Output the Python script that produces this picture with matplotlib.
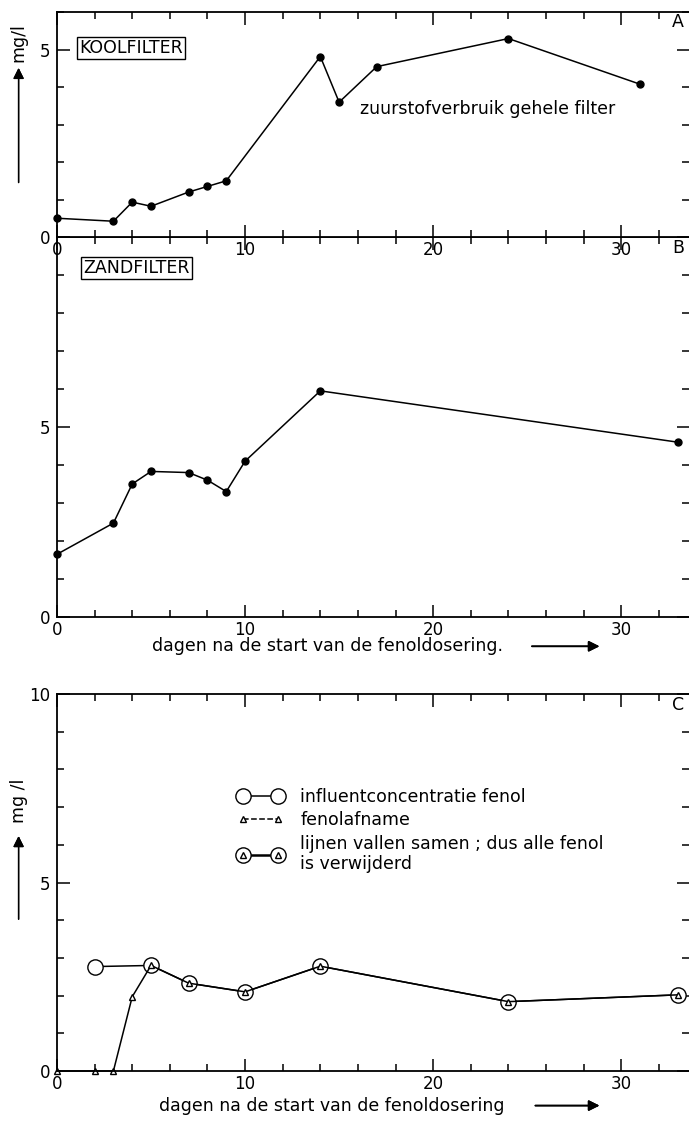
import matplotlib.pyplot as plt
from matplotlib.lines import Line2D
from matplotlib.legend_handler import HandlerTuple
from matplotlib.ticker import MultipleLocator

# Panel A: koolfilter, zuurstofverbruik
days_a = [0, 3, 4, 5, 7, 8, 9, 14, 15, 17, 24, 31]
oxy_a = [0.5, 0.42, 0.93, 0.82, 1.2, 1.35, 1.5, 4.82, 3.6, 4.55, 5.3, 4.08]

# Panel B: zandfilter
days_b = [0, 3, 4, 5, 7, 8, 9, 10, 14, 33]
oxy_b = [1.65, 2.47, 3.5, 3.83, 3.8, 3.6, 3.3, 4.1, 5.95, 4.6]

# Panel C: fenol
days_infl = [2, 5, 7, 10, 14, 24, 33]
infl = [2.77, 2.8, 2.33, 2.1, 2.78, 1.84, 2.02]
days_afn = [0, 2, 3, 4, 5, 7, 10, 14, 24, 33]
afname = [0, 0, 0, 1.97, 2.8, 2.33, 2.1, 2.78, 1.84, 2.02]

xticks = [0, 10, 20, 30]
FS = 12.5   # annotation text
TFS = 12    # tick labels

plt.rcParams['font.family'] = ['DejaVu Sans']

fig = plt.figure(figsize=(6.89, 11.23), dpi=100)
axA = fig.add_axes([0.0827, 0.789, 0.9173, 0.200])
axB = fig.add_axes([0.0827, 0.4506, 0.9173, 0.3384])
axC = fig.add_axes([0.0827, 0.0463, 0.9173, 0.3357])
# A's x tick labels sit inside panel B, so draw A on top
axA.set_zorder(3)


def style(ax, ymax, yticks):
    ax.set_xlim(0, 33.6)
    ax.set_ylim(0, ymax)
    ax.set_xticks(xticks)
    ax.set_yticks(yticks)
    ax.xaxis.set_minor_locator(MultipleLocator(2))
    ax.yaxis.set_minor_locator(MultipleLocator(1))
    ax.tick_params(which='both', direction='in', top=True, right=True,
                   labelsize=TFS, width=1.1)
    ax.tick_params(axis='x', pad=3)
    ax.tick_params(axis='y', pad=5)
    ax.tick_params(which='major', length=9)
    ax.tick_params(which='minor', length=5)
    ax.spines['right'].set_visible(False)
    for s in ['left', 'top', 'bottom']:
        ax.spines[s].set_linewidth(1.3)


style(axA, 6, [0, 5])
style(axB, 10, [0, 5])
style(axC, 10, [0, 5, 10])

# A
axA.plot(days_a, oxy_a, '-', color='k', lw=1.1, marker='o', ms=5, clip_on=False)
axA.text(1.2, 5.05, 'KOOLFILTER', fontsize=FS, va='center',
         bbox=dict(boxstyle='square,pad=0.12', fc='white', ec='k', lw=1))
axA.text(16.1, 3.42, 'zuurstofverbruik gehele filter', fontsize=FS, va='center')
axA.text(0.983, 0.955, 'A', transform=axA.transAxes, fontsize=FS, ha='center', va='center')

# B
axB.plot(days_b, oxy_b, '-', color='k', lw=1.1, marker='o', ms=5, clip_on=False)
axB.text(1.4, 9.18, 'ZANDFILTER', fontsize=FS, va='center',
         bbox=dict(boxstyle='square,pad=0.12', fc='white', ec='k', lw=1))
axB.text(0.983, 0.971, 'B', transform=axB.transAxes, fontsize=FS, ha='center', va='center')

# C
axC.plot(days_infl, infl, '-', color='k', lw=1.1, marker='o', ms=11,
         mfc='white', mew=1, clip_on=False)
axC.plot(days_afn, afname, '-', color='k', lw=1.1, marker='^', ms=5,
         mfc='white', mew=1, clip_on=False)
axC.text(0.983, 0.971, 'C', transform=axC.transAxes, fontsize=FS, ha='center', va='center')

h_infl = Line2D([], [], color='k', lw=1.1, marker='o', ms=11, mfc='white', mew=1)
h_afn = Line2D([], [], color='k', lw=1.1, ls='--', marker='^', ms=5, mfc='white', mew=1)
h_circ = Line2D([], [], color='k', lw=1.8, marker='o', ms=11, mfc='white', mew=1)
h_tri = Line2D([], [], color='k', lw=0, marker='^', ms=5, mfc='white', mew=1)
axC.legend([h_infl, h_afn, (h_circ, h_tri)],
           ['influentconcentratie fenol', 'fenolafname',
            'lijnen vallen samen ; dus alle fenol\nis verwijderd'],
           handler_map={tuple: HandlerTuple(ndivide=1, pad=0)},
           loc='upper left', bbox_to_anchor=(0.286, 0.75), frameon=False,
           fontsize=FS, numpoints=2, handlelength=2.6, handletextpad=1.0,
           labelspacing=0.3, borderaxespad=0, borderpad=0)

# y-axis labels with arrows
fig.text(0.027, 0.962, 'mg/l', rotation=90, fontsize=FS, ha='center', va='center')
fig.add_artist(plt.annotate('', xy=(0.027, 0.942), xytext=(0.027, 0.835),
                            xycoords='figure fraction',
                            arrowprops=dict(arrowstyle='-|>', color='k', lw=1,
                                            mutation_scale=16)))
fig.text(0.027, 0.287, 'mg /l', rotation=90, fontsize=FS, ha='center', va='center')
fig.add_artist(plt.annotate('', xy=(0.027, 0.258), xytext=(0.027, 0.179),
                            xycoords='figure fraction',
                            arrowprops=dict(arrowstyle='-|>', color='k', lw=1,
                                            mutation_scale=16)))

# x-axis labels with arrows
fig.text(0.476, 0.4245, 'dagen na de start van de fenoldosering.', fontsize=FS,
         ha='center', va='center')
fig.add_artist(plt.annotate('', xy=(0.874, 0.4245), xytext=(0.768, 0.4245),
                            xycoords='figure fraction',
                            arrowprops=dict(arrowstyle='-|>', color='k', lw=1.2,
                                            mutation_scale=16)))
fig.text(0.482, 0.0155, 'dagen na de start van de fenoldosering', fontsize=FS,
         ha='center', va='center')
fig.add_artist(plt.annotate('', xy=(0.874, 0.0155), xytext=(0.773, 0.0155),
                            xycoords='figure fraction',
                            arrowprops=dict(arrowstyle='-|>', color='k', lw=1.2,
                                            mutation_scale=16)))

fig.savefig('out.png', dpi=100)
